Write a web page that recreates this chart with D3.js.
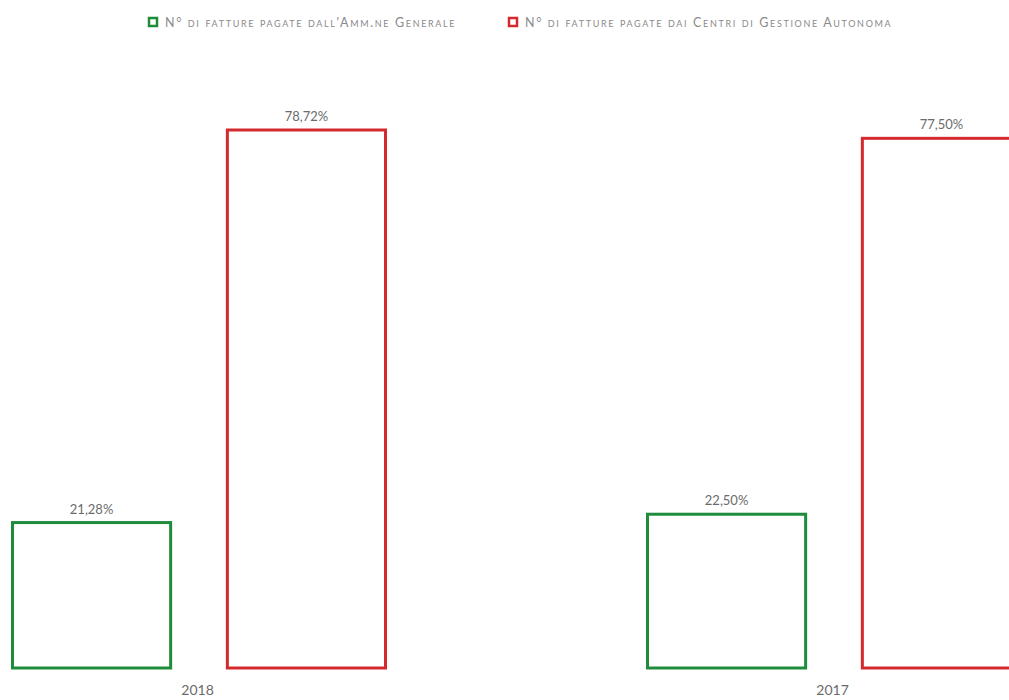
<!DOCTYPE html>
<html><head><meta charset="utf-8">
<script src="https://cdn.jsdelivr.net/npm/d3@7"></script>
<style>body{margin:0;background:#fff;overflow:hidden}svg{display:block}</style>
</head><body>
<script>
const categories = ["2018", "2017"];
const seriesNames = ["N° di fatture pagate dall'Amm.ne Generale", "N° di fatture pagate dai Centri di Gestione Autonoma"];
const amministrazioneGenerale = [21.28, 22.50];
const centriGestioneAutonoma = [78.72, 77.50];
const seriesColors = ["#1e8c3a", "#d42a2e"];

const W = 1009, H = 700;
const svg = d3.select("body").append("svg").attr("width", W).attr("height", H);

const baseline = 668;
const y = d3.scaleLinear().domain([0, 78.72]).range([baseline, 130]);
const x0 = d3.scaleBand().domain(categories).range([-120, 1150]).padding(0);
const x1 = d3.scaleBand().domain([0, 1]).range([131, 507]).paddingInner(0.25).paddingOuter(0);

const data = categories.map((c, i) => ({cat: c, vals: [amministrazioneGenerale[i], centriGestioneAutonoma[i]]}));
const fmt = v => v.toFixed(2).replace(".", ",") + "%";

const g = svg.selectAll("g.cat").data(data).join("g")
  .attr("transform", d => `translate(${x0(d.cat)},0)`);

g.selectAll("rect").data(d => d.vals.map((v, k) => ({v, k}))).join("rect")
  .attr("x", d => x1(d.k) + 1.5)
  .attr("y", d => y(d.v))
  .attr("width", x1.bandwidth() - 3)
  .attr("height", d => baseline - y(d.v))
  .attr("fill", "#fff")
  .attr("stroke", d => seriesColors[d.k])
  .attr("stroke-width", 3);

g.selectAll("text.val").data(d => d.vals.map((v, k) => ({v, k}))).join("text")
  .attr("class", "val")
  .attr("x", d => x1(d.k) + x1.bandwidth() / 2)
  .attr("y", d => y(d.v) - 9)
  .attr("text-anchor", "middle")
  .attr("font-family", "Lato, 'Open Sans', sans-serif")
  .attr("font-size", 13)
  .attr("fill", "#6b6b6b")
  .text(d => fmt(d.v));

// category axis labels
const xAxis = d3.axisBottom(x0).tickSize(0).tickPadding(0);
const ax = svg.append("g").attr("transform", `translate(0,${baseline + 17})`).call(xAxis);
ax.select(".domain").remove();
ax.selectAll("text")
  .attr("dy", "0.71em")
  .attr("font-family", "Lato, 'Open Sans', sans-serif")
  .attr("font-size", 14)
  .attr("fill", "#6b6b6b");

// legend
const legendX = [148, 508];
const leg = svg.selectAll("g.leg").data(seriesNames).join("g")
  .attr("transform", (d, i) => `translate(${legendX[i]},17)`);
leg.append("rect").attr("x", 1).attr("y", 1).attr("width", 8).attr("height", 8)
  .attr("fill", "#fff").attr("stroke", (d, i) => seriesColors[i]).attr("stroke-width", 2.5);
leg.append("text").attr("x", 17).attr("y", 9.5)
  .attr("font-family", "Lato, 'Open Sans', sans-serif")
  .attr("font-size", 12.5)
  .attr("letter-spacing", 1.65)
  .style("font-variant", "small-caps")
  .attr("fill", "#8a8a8a")
  .text(d => d);
</script>
</body></html>
